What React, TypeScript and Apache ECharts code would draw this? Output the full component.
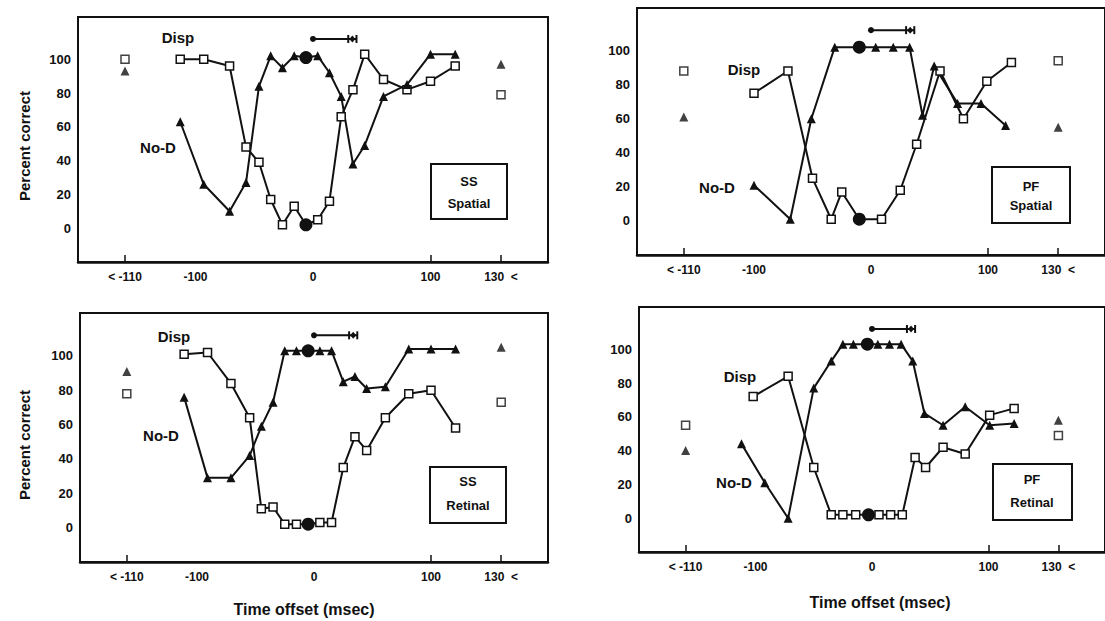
import { useEffect, useRef } from 'react';
import * as echarts from 'echarts';

// ---- Axis break positions (values beyond the range are plotted here) ----
const X_LEFT_OUT = -160; // labelled "< -110"
const X_RIGHT_OUT = 160; // labelled "130 <"
const X_TICK_LABELS = [X_LEFT_OUT, -100, 0, 100, X_RIGHT_OUT];
const X_TICKS = [X_LEFT_OUT, 100, X_RIGHT_OUT];
const Y_TICK_LABELS = [0, 20, 40, 60, 80, 100];

// ---- Panel 1: SS Spatial ----
const ssSpX = [-113, -93, -71, -57, -46, -36, -26, -16, -6, 4, 14, 24, 34, 44, 60, 80, 100, 121];
const ssSpDisp = [100, 100, 96, 48, 39, 17, 2, 13, 2, 5, 16, 66, 82, 103, 88, 82, 87, 96];
const ssSpNoD = [63, 26, 10, 27, 84, 102, 95, 102, 101, 102, 92, 78, 38, 49, 78, 85, 103, 103];
const ssSpDispOut = [100, 79];
const ssSpNoDOut = [93, 97];
const ssSpCenter = 8;

// ---- Panel 2: PF Spatial ----
const pfSpDispX = [-100, -71, -50, -34, -25, -10, 9, 25, 39, 59, 79, 99, 120];
const pfSpDisp = [75, 88, 25, 1, 17, 1, 1, 18, 45, 88, 60, 82, 93];
const pfSpNoDX = [-100, -69, -51, -31, -10, 4, 19, 33, 44, 54, 74, 94, 115];
const pfSpNoD = [21, 1, 60, 102, 102, 102, 102, 102, 62, 91, 69, 69, 56];
const pfSpDispOut = [88, 94];
const pfSpNoDOut = [61, 55];
const pfSpDispCenter = 5;
const pfSpNoDCenter = 4;

// ---- Panel 3: SS Retinal ----
const ssReX = [-111, -91, -71, -55, -45, -35, -25, -15, -5, 5, 15, 25, 35, 45, 61, 81, 100, 121];
const ssReDisp = [101, 102, 84, 64, 11, 12, 2, 2, 2, 3, 3, 35, 53, 45, 64, 78, 80, 58];
const ssReNoD = [76, 29, 29, 42, 59, 73, 103, 103, 103, 103, 103, 85, 88, 81, 82, 104, 104, 104];
const ssReDispOut = [78, 73];
const ssReNoDOut = [91, 105];
const ssReCenter = 8;

// ---- Panel 4: PF Retinal ----
const pfReDispX = [-102, -72, -50, -35, -25, -14, -3, 6, 16, 26, 37, 46, 61, 80, 101, 122];
const pfReDisp = [72, 84, 30, 2, 2, 2, 2, 2, 2, 2, 36, 30, 42, 38, 61, 65];
const pfReNoDX = [-112, -92, -72, -50, -35, -25, -16, -4, 5, 15, 25, 35, 45, 61, 80, 101, 122];
const pfReNoD = [44, 21, 0, 77, 93, 103, 103, 103, 103, 103, 103, 93, 62, 55, 66, 55, 56];
const pfReDispOut = [55, 49];
const pfReNoDOut = [40, 58];
const pfReDispCenter = 6;
const pfReNoDCenter = 7;

// ---- Top interval bar (x from 0 to end, at y) ----
const BAR_Y = 112;
const BAR_X = [0, 30, 33.5, 37];

const FONT = 'Liberation Sans, Arial, Helvetica, sans-serif';
const INK = '#111';

type Panel = {
  grid: { left: number; top: number; width: number; height: number };
  dispX: number[]; disp: number[]; dispCenter: number; dispOut: number[];
  nodX: number[]; nod: number[]; nodCenter: number; nodOut: number[];
};

const panels: Panel[] = [
  { grid: { left: 78, top: 17, width: 470, height: 245 },
    dispX: ssSpX, disp: ssSpDisp, dispCenter: ssSpCenter, dispOut: ssSpDispOut,
    nodX: ssSpX, nod: ssSpNoD, nodCenter: ssSpCenter, nodOut: ssSpNoDOut },
  { grid: { left: 637, top: 8, width: 474, height: 247 },
    dispX: pfSpDispX, disp: pfSpDisp, dispCenter: pfSpDispCenter, dispOut: pfSpDispOut,
    nodX: pfSpNoDX, nod: pfSpNoD, nodCenter: pfSpNoDCenter, nodOut: pfSpNoDOut },
  { grid: { left: 80, top: 313, width: 468, height: 249 },
    dispX: ssReX, disp: ssReDisp, dispCenter: ssReCenter, dispOut: ssReDispOut,
    nodX: ssReX, nod: ssReNoD, nodCenter: ssReCenter, nodOut: ssReNoDOut },
  { grid: { left: 639, top: 307, width: 474, height: 245 },
    dispX: pfReDispX, disp: pfReDisp, dispCenter: pfReDispCenter, dispOut: pfReDispOut,
    nodX: pfReNoDX, nod: pfReNoD, nodCenter: pfReNoDCenter, nodOut: pfReNoDOut },
];

const squareStyle = { color: '#fff', borderColor: INK, borderWidth: 1.5 };
const triStyle = { color: INK, borderColor: INK, borderWidth: 0 };
const bigDot = { symbol: 'circle', symbolSize: 13, itemStyle: { color: INK, borderColor: INK, borderWidth: 0 } };

function seriesData(xs: number[], ys: number[], center: number) {
  return xs.map((x, i) => (i === center ? { value: [x, ys[i]], ...bigDot } : [x, ys[i]]));
}

function xFmt(v: number) {
  if (v === X_LEFT_OUT) return '< -110';
  if (v === X_RIGHT_OUT) return '130  <';
  return String(v);
}

function buildOption() {
  const grid: any[] = [];
  const xAxis: any[] = [];
  const yAxis: any[] = [];
  const series: any[] = [];
  panels.forEach((p, i) => {
    grid.push({ ...p.grid, show: true, borderColor: INK, borderWidth: 2, backgroundColor: 'transparent' });
    xAxis.push({
      type: 'value', gridIndex: i, min: -200, max: 200,
      splitLine: { show: false },
      axisLine: { show: true, onZero: false, lineStyle: { color: INK, width: 2.5 } },
      axisTick: { show: true, inside: true, length: 7, customValues: X_TICKS, lineStyle: { color: INK, width: 1.5 } },
      axisLabel: { customValues: X_TICK_LABELS, formatter: xFmt, color: INK, fontWeight: 'bold', fontSize: 12, margin: 9, fontFamily: FONT },
    });
    yAxis.push({
      type: 'value', gridIndex: i, min: -20, max: 125,
      splitLine: { show: false },
      axisLine: { show: true, onZero: false, lineStyle: { color: INK, width: 2 } },
      axisTick: { show: false },
      axisLabel: { customValues: Y_TICK_LABELS, color: INK, fontWeight: 'bold', fontSize: 13, margin: 7, fontFamily: FONT },
    });
    const common = { xAxisIndex: i, yAxisIndex: i, silent: true, animation: false };
    series.push({
      ...common, type: 'line', name: 'Disp', showAllSymbol: true, symbol: 'rect', symbolSize: 8,
      itemStyle: squareStyle, lineStyle: { color: INK, width: 2 }, z: 3,
      data: seriesData(p.dispX, p.disp, p.dispCenter),
    });
    series.push({
      ...common, type: 'line', name: 'No-D', showAllSymbol: true, symbol: 'triangle', symbolSize: 9,
      itemStyle: triStyle, lineStyle: { color: INK, width: 2 }, z: 3,
      data: seriesData(p.nodX, p.nod, p.nodCenter),
    });
    series.push({
      ...common, type: 'scatter', symbol: 'rect', symbolSize: 8, itemStyle: squareStyle, z: 4,
      data: [[X_LEFT_OUT, p.dispOut[0]], [X_RIGHT_OUT, p.dispOut[1]]],
    });
    series.push({
      ...common, type: 'scatter', symbol: 'triangle', symbolSize: 9, itemStyle: triStyle, z: 4,
      data: [[X_LEFT_OUT, p.nodOut[0]], [X_RIGHT_OUT, p.nodOut[1]]],
    });
    series.push({
      ...common, type: 'line', showAllSymbol: true, lineStyle: { color: INK, width: 2 }, z: 3,
      itemStyle: { color: INK },
      data: [
        { value: [BAR_X[0], BAR_Y], symbol: 'circle', symbolSize: 6 },
        { value: [BAR_X[1], BAR_Y], symbol: 'rect', symbolSize: [2, 8] },
        { value: [BAR_X[2], BAR_Y], symbol: 'diamond', symbolSize: [6, 7] },
        { value: [BAR_X[3], BAR_Y], symbol: 'rect', symbolSize: [2, 8] },
      ],
    });
  });

  const txt = (x: number, y: number, text: string, size = 15, extra: any = {}) => ({
    type: 'text', x, y, silent: true,
    style: { text, fill: INK, font: `bold ${size}px ${FONT}`, textAlign: 'center', textVerticalAlign: 'middle', ...extra },
  });
  const box = (x: number, y: number, w: number, h: number) => ({
    type: 'rect', shape: { x, y, width: w, height: h }, silent: true,
    style: { fill: '#fff', stroke: INK, lineWidth: 2 },
  });

  const graphic: any[] = [
    // Panel 1
    txt(178, 37, 'Disp'), txt(158, 147, 'No-D'),
    box(431, 164, 76, 55), txt(469, 181, 'SS', 13), txt(469, 203, 'Spatial', 13),
    // Panel 2
    txt(744, 69, 'Disp'), txt(717, 187, 'No-D'),
    box(992, 167, 78, 56), txt(1031, 186, 'PF', 13), txt(1031, 205, 'Spatial', 13),
    // Panel 3
    txt(174, 336, 'Disp'), txt(161, 435, 'No-D'),
    box(430, 467, 76, 56), txt(468, 481, 'SS', 13), txt(468, 505, 'Retinal', 13),
    // Panel 4
    txt(740, 376, 'Disp'), txt(734, 482, 'No-D'),
    box(993, 464, 79, 56), txt(1032, 479, 'PF', 13), txt(1032, 502, 'Retinal', 13),
    // Axis titles
    { type: 'text', x: 24, y: 146, rotation: Math.PI / 2, silent: true,
      style: { text: 'Percent correct', fill: INK, font: `bold 15px ${FONT}`, textAlign: 'center', textVerticalAlign: 'middle' } },
    { type: 'text', x: 24, y: 445, rotation: Math.PI / 2, silent: true,
      style: { text: 'Percent correct', fill: INK, font: `bold 15px ${FONT}`, textAlign: 'center', textVerticalAlign: 'middle' } },
    txt(304, 609, 'Time offset (msec)', 16),
    txt(880, 602, 'Time offset (msec)', 16),
  ];

  return { animation: false, backgroundColor: '#fff', grid, xAxis, yAxis, series, graphic };
}

export default function App() {
  const ref = useRef<HTMLDivElement>(null);
  useEffect(() => {
    if (!ref.current) return;
    const chart = echarts.init(ref.current, undefined, { renderer: 'svg' });
    chart.setOption(buildOption() as any);
    return () => chart.dispose();
  }, []);
  return <div ref={ref} style={{ position: 'absolute', left: 0, top: 0, width: 1105, height: 621, background: '#fff' }} />;
}
